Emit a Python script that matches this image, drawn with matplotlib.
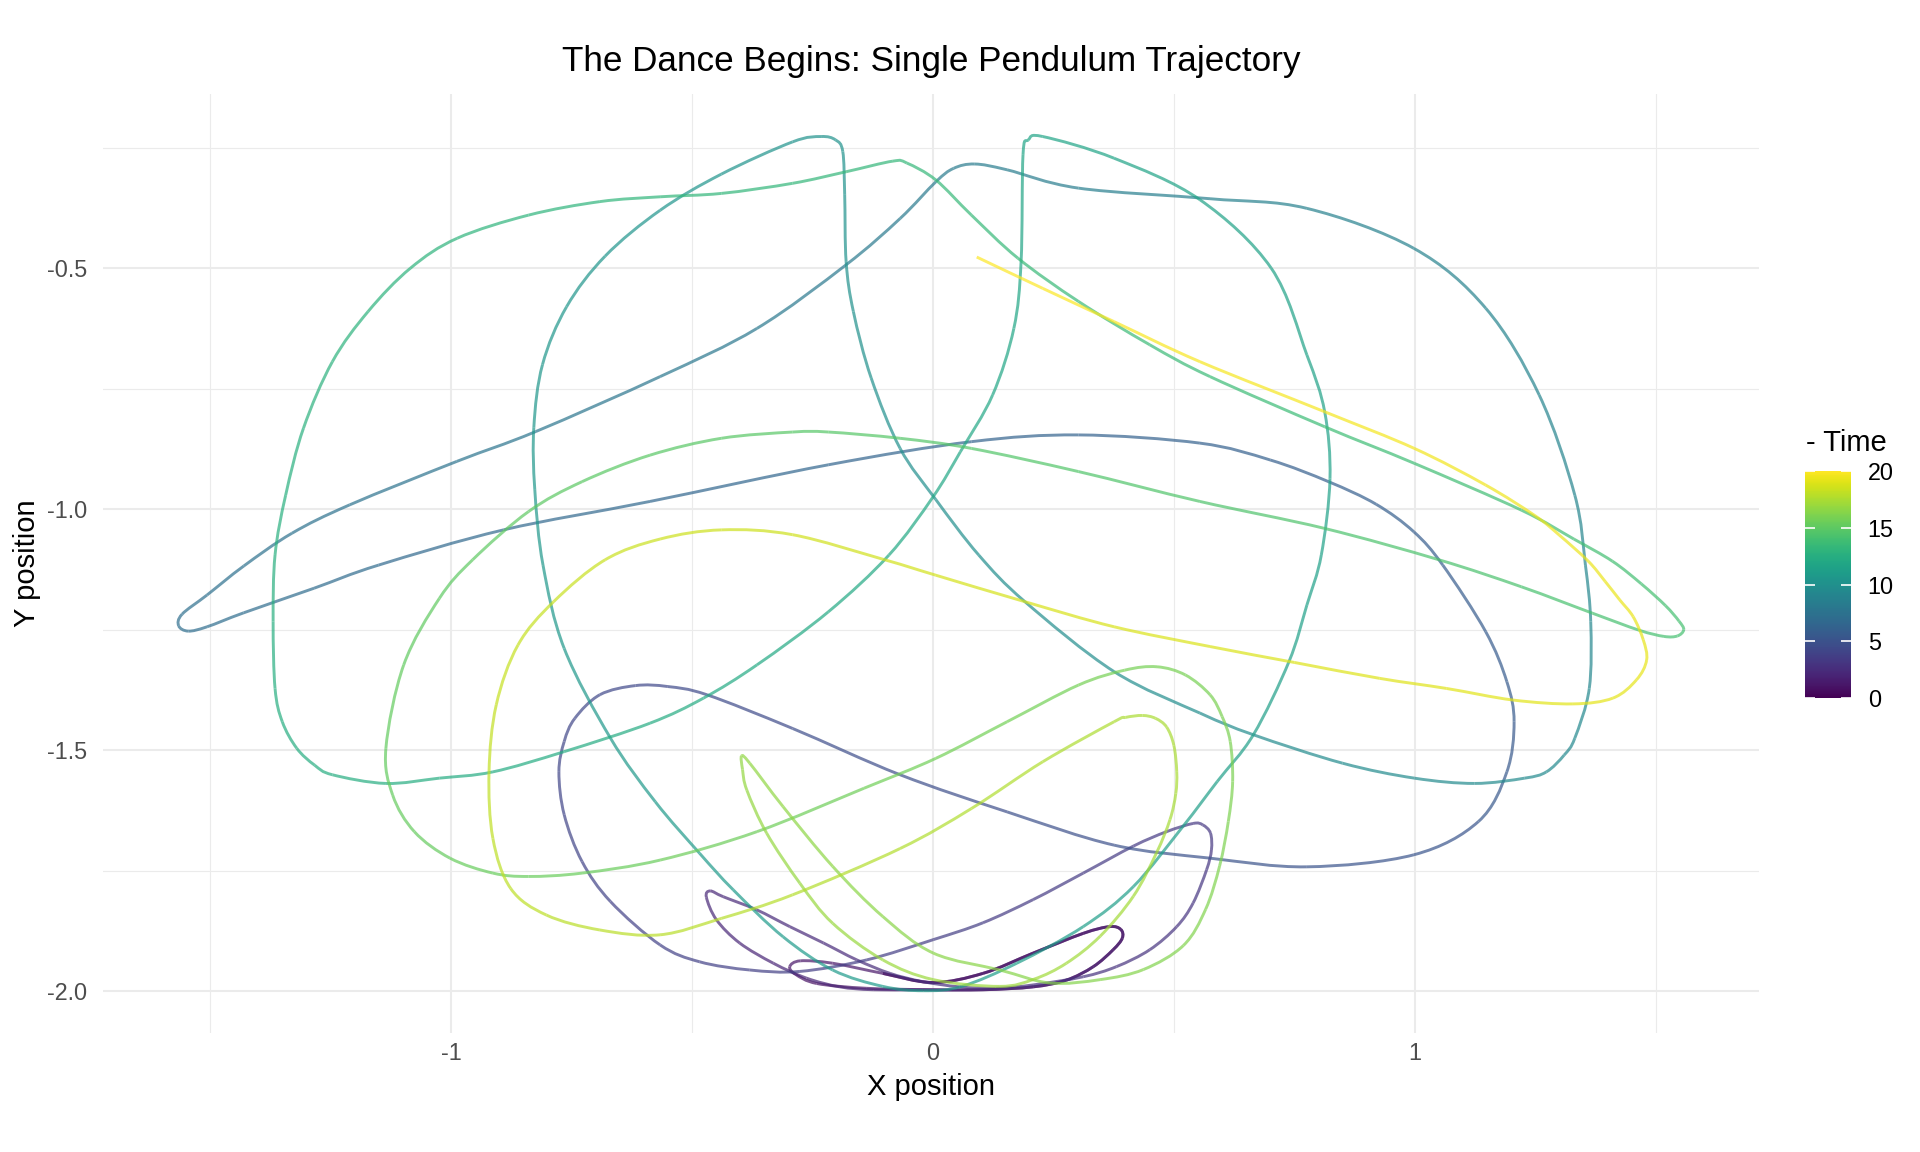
import numpy as np
import matplotlib
matplotlib.use("Agg")
import matplotlib.pyplot as plt
from matplotlib.collections import PathCollection
from matplotlib.path import Path
from matplotlib.cm import ScalarMappable
from matplotlib.colors import Normalize

plt.rcParams['font.family'] = ['Liberation Sans', 'DejaVu Sans']
plt.rcParams['axes.unicode_minus'] = False

# traced position of the bob, in time order
# purple part: small loops near the bottom (t = 0 .. 4.3)
x_purple = [-0.104, 0.000, 0.104, 0.208, 0.312, 0.367, 0.390, 0.393, 0.374, 0.333,
            0.277, 0.208, 0.104, 0.000, -0.137, -0.241, -0.285, -0.297, -0.275, -0.208,
            -0.104, 0.000, 0.104, 0.208, 0.312, 0.367, 0.390, 0.393, 0.374, 0.333,
            0.277, 0.208, 0.104, -0.022, -0.124, -0.193, -0.262, -0.331, -0.401, -0.449,
            -0.470, -0.462, -0.435, -0.366, -0.297, -0.227, -0.158, -0.089, -0.022, 0.055,
            0.130, 0.208, 0.312, 0.381, 0.450, 0.506, 0.540, 0.568, 0.578, 0.576,
            0.560, 0.540, 0.485, 0.416, 0.312, 0.208, 0.104, 0.001, -0.137, -0.276,
            -0.380, -0.484, -0.566, -0.669, -0.728, -0.765, -0.776, -0.765, -0.743, -0.691,
            -0.617]
y_purple = [-1.963, -1.982, -1.963, -1.921, -1.880, -1.866, -1.872, -1.890, -1.914, -1.949,
            -1.977, -1.991, -1.997, -1.997, -1.994, -1.984, -1.965, -1.949, -1.937, -1.942,
            -1.963, -1.982, -1.963, -1.921, -1.880, -1.866, -1.872, -1.890, -1.914, -1.949,
            -1.977, -1.991, -1.997, -1.997, -1.997, -1.991, -1.973, -1.942, -1.900, -1.852,
            -1.805, -1.792, -1.804, -1.831, -1.866, -1.900, -1.935, -1.963, -1.980, -1.991,
            -1.994, -1.987, -1.970, -1.949, -1.914, -1.866, -1.817, -1.748, -1.707, -1.672,
            -1.655, -1.652, -1.669, -1.699, -1.755, -1.810, -1.858, -1.893, -1.935, -1.959,
            -1.956, -1.939, -1.904, -1.814, -1.731, -1.634, -1.545, -1.482, -1.434, -1.385,
            -1.366]
t_purple = [0.00, 0.06, 0.12, 0.19, 0.26, 0.31, 0.35, 0.39, 0.44, 0.50,
            0.56, 0.62, 0.69, 0.76, 0.84, 0.91, 0.96, 1.00, 1.04, 1.10,
            1.16, 1.22, 1.28, 1.34, 1.40, 1.45, 1.49, 1.53, 1.57, 1.62,
            1.67, 1.72, 1.78, 1.84, 1.89, 1.93, 1.97, 2.01, 2.05, 2.09,
            2.13, 2.16, 2.19, 2.25, 2.31, 2.37, 2.43, 2.49, 2.55, 2.61,
            2.67, 2.73, 2.80, 2.86, 2.92, 2.98, 3.03, 3.08, 3.12, 3.16,
            3.20, 3.23, 3.28, 3.33, 3.39, 3.45, 3.51, 3.57, 3.63, 3.69,
            3.75, 3.81, 3.87, 3.94, 4.00, 4.06, 4.12, 4.17, 4.22, 4.28,
            4.34]

# blue / teal part: the big swings (t = 4.4 .. 13.3)
x_blue = [-0.550, -0.469, -0.291, -0.068, 0.154, 0.376, 0.575, 0.776, 0.998, 1.132,
          1.191, 1.206, 1.191, 1.147, 1.058, 0.998, 0.920, 0.821, 0.700, 0.554,
          0.302, 0.080, -0.217, -0.587, -0.891, -1.150, -1.284, -1.430, -1.506, -1.545,
          -1.565, -1.558, -1.506, -1.430, -1.330, -1.210, -0.988, -0.824, -0.566, -0.365,
          -0.180, -0.068, 0.006, 0.043, 0.087, 0.154, 0.302, 0.575, 0.776, 0.998,
          1.147, 1.258, 1.332, 1.354, 1.365, 1.362, 1.332, 1.310, 1.273, 1.228,
          1.124, 0.999, 0.850, 0.665, 0.554, 0.376, 0.191, 0.095, 0.006, -0.068,
          -0.128, -0.165, -0.180, -0.183, -0.187, -0.202, -0.232, -0.291, -0.439, -0.566,
          -0.680, -0.760, -0.810, -0.828, -0.826, -0.809, -0.765, -0.669, -0.576, -0.484,
          -0.414, -0.311, -0.208, -0.104, -0.020, 0.060, 0.174, 0.312, 0.416, 0.519,
          0.590, 0.665, 0.739, 0.776, 0.806, 0.824, 0.813, 0.776, 0.702, 0.554,
          0.376, 0.228, 0.198, 0.187, 0.183, 0.168, 0.124, 0.057, 0.000, -0.091,
          -0.217, -0.365, -0.476, -0.587, -0.765, -0.913, -1.024, -1.135, -1.246, -1.283,
          -1.320, -1.350, -1.365, -1.369, -1.365, -1.343, -1.306, -1.246, -1.172, -1.084,
          -0.987, -0.839, -0.691, -0.566, -0.439, -0.291, -0.180, -0.083, -0.054]
y_blue = [-1.368, -1.385, -1.455, -1.551, -1.628, -1.697, -1.724, -1.742, -1.717, -1.648,
          -1.545, -1.441, -1.358, -1.254, -1.116, -1.047, -0.990, -0.943, -0.898, -0.863,
          -0.846, -0.860, -0.908, -0.984, -1.043, -1.116, -1.164, -1.215, -1.244, -1.253,
          -1.242, -1.218, -1.178, -1.118, -1.050, -0.991, -0.901, -0.839, -0.725, -0.625,
          -0.493, -0.397, -0.321, -0.293, -0.284, -0.296, -0.334, -0.356, -0.376, -0.459,
          -0.583, -0.763, -0.971, -1.116, -1.233, -1.372, -1.475, -1.510, -1.545, -1.558,
          -1.569, -1.558, -1.527, -1.468, -1.423, -1.337, -1.192, -1.095, -0.980, -0.874,
          -0.728, -0.590, -0.487, -0.348, -0.258, -0.234, -0.227, -0.238, -0.305, -0.380,
          -0.475, -0.580, -0.700, -0.830, -0.960, -1.116, -1.289, -1.475, -1.607, -1.714,
          -1.790, -1.887, -1.956, -1.990, -1.999, -1.990, -1.942, -1.866, -1.783, -1.658,
          -1.565, -1.468, -1.316, -1.199, -1.095, -0.936, -0.798, -0.680, -0.500, -0.358,
          -0.272, -0.227, -0.234, -0.265, -0.487, -0.625, -0.763, -0.881, -0.975, -1.095,
          -1.213, -1.323, -1.392, -1.444, -1.503, -1.545, -1.558, -1.569, -1.551, -1.531,
          -1.496, -1.441, -1.372, -1.233, -1.095, -0.971, -0.832, -0.694, -0.590, -0.500,
          -0.438, -0.390, -0.362, -0.352, -0.345, -0.324, -0.300, -0.278, -0.282]
t_blue = [4.40, 4.46, 4.56, 4.68, 4.80, 4.92, 5.03, 5.14, 5.26, 5.36,
          5.44, 5.52, 5.59, 5.67, 5.77, 5.83, 5.89, 5.95, 6.02, 6.08,
          6.19, 6.29, 6.42, 6.58, 6.72, 6.85, 6.93, 7.02, 7.08, 7.12,
          7.16, 7.20, 7.26, 7.33, 7.41, 7.49, 7.62, 7.71, 7.85, 7.95,
          8.06, 8.14, 8.20, 8.24, 8.28, 8.33, 8.42, 8.56, 8.66, 8.78,
          8.88, 8.98, 9.08, 9.15, 9.21, 9.28, 9.34, 9.37, 9.41, 9.44,
          9.48, 9.52, 9.57, 9.63, 9.67, 9.73, 9.80, 9.85, 9.90, 9.94,
          9.99, 10.04, 10.08, 10.13, 10.17, 10.19, 10.21, 10.24, 10.30, 10.35,
          10.40, 10.45, 10.50, 10.55, 10.59, 10.63, 10.67, 10.72, 10.77, 10.80,
          10.84, 10.88, 10.92, 10.95, 10.98, 11.01, 11.05, 11.09, 11.13, 11.17,
          11.20, 11.23, 11.26, 11.29, 11.32, 11.37, 11.41, 11.45, 11.51, 11.57,
          11.63, 11.68, 11.70, 11.72, 11.79, 11.83, 11.88, 11.92, 11.96, 12.01,
          12.07, 12.13, 12.17, 12.21, 12.27, 12.32, 12.36, 12.40, 12.44, 12.46,
          12.48, 12.51, 12.54, 12.59, 12.64, 12.69, 12.74, 12.80, 12.85, 12.90,
          12.95, 13.01, 13.06, 13.11, 13.16, 13.21, 13.25, 13.29, 13.31]

# green part (t = 13.3 .. 17.1)
x_green = [0.006, 0.080, 0.176, 0.302, 0.450, 0.575, 0.813, 0.999, 1.221, 1.330,
           1.410, 1.470, 1.520, 1.548, 1.558, 1.545, 1.517, 1.465, 1.369, 1.221,
           1.050, 0.813, 0.554, 0.302, 0.080, -0.068, -0.217, -0.291, -0.439, -0.587,
           -0.728, -0.839, -0.955, -1.024, -1.098, -1.135, -1.121, -1.076, -1.002, -0.913,
           -0.839, -0.728, -0.566, -0.365, -0.143, 0.006, 0.154, 0.302, 0.398, 0.465,
           0.524, 0.575, 0.600, 0.617, 0.622, 0.613, 0.595, 0.566, 0.520, 0.437,
           0.347, 0.243, 0.139, 0.001, -0.104, -0.208, -0.311, -0.380, -0.397, -0.395,
           -0.386, -0.345, -0.276, -0.208, -0.104, 0.001, 0.139]
y_green = [-0.317, -0.390, -0.479, -0.569, -0.659, -0.725, -0.829, -0.905, -1.002, -1.062,
           -1.108, -1.155, -1.200, -1.232, -1.250, -1.263, -1.264, -1.251, -1.216, -1.161,
           -1.105, -1.040, -0.984, -0.922, -0.874, -0.853, -0.840, -0.840, -0.853, -0.888,
           -0.943, -1.005, -1.105, -1.185, -1.323, -1.496, -1.593, -1.669, -1.724, -1.755,
           -1.762, -1.755, -1.728, -1.669, -1.579, -1.517, -1.441, -1.365, -1.334, -1.327,
           -1.344, -1.385, -1.430, -1.482, -1.565, -1.648, -1.740, -1.830, -1.905, -1.955,
           -1.976, -1.983, -1.956, -1.921, -1.845, -1.741, -1.617, -1.527, -1.512, -1.540,
           -1.583, -1.672, -1.776, -1.859, -1.935, -1.976, -1.990]
t_green = [13.34, 13.38, 13.43, 13.49, 13.55, 13.60, 13.69, 13.76, 13.85, 13.90,
           13.94, 13.97, 14.00, 14.02, 14.03, 14.04, 14.06, 14.09, 14.13, 14.19,
           14.26, 14.35, 14.45, 14.54, 14.62, 14.68, 14.73, 14.76, 14.81, 14.87,
           14.92, 14.97, 15.03, 15.07, 15.13, 15.19, 15.23, 15.27, 15.31, 15.35,
           15.38, 15.42, 15.48, 15.55, 15.63, 15.68, 15.74, 15.80, 15.84, 15.87,
           15.90, 15.93, 15.96, 15.99, 16.03, 16.07, 16.11, 16.16, 16.21, 16.25,
           16.29, 16.33, 16.38, 16.44, 16.50, 16.56, 16.63, 16.68, 16.70, 16.72,
           16.75, 16.80, 16.86, 16.91, 16.97, 17.02, 17.08]

# yellow part: last loops (t = 17.1 .. 20)
x_yellow = [0.210, 0.277, 0.347, 0.416, 0.464, 0.492, 0.504, 0.506, 0.500, 0.485,
            0.462, 0.435, 0.400, 0.376, 0.228, 0.080, -0.068, -0.291, -0.439, -0.566,
            -0.691, -0.802, -0.876, -0.913, -0.921, -0.906, -0.861, -0.787, -0.680, -0.566,
            -0.439, -0.291, -0.100, 0.006, 0.191, 0.376, 0.575, 0.750, 0.927, 1.066,
            1.204, 1.328, 1.411, 1.460, 1.481, 1.474, 1.453, 1.425, 1.395, 1.360,
            1.300, 1.250, 1.147, 0.999, 0.813, 0.554, 0.376, 0.228, 0.091]
y_yellow = [-1.975, -1.942, -1.886, -1.803, -1.713, -1.644, -1.590, -1.545, -1.490, -1.452,
            -1.434, -1.428, -1.432, -1.441, -1.524, -1.621, -1.704, -1.800, -1.849, -1.883,
            -1.873, -1.842, -1.787, -1.683, -1.545, -1.406, -1.282, -1.192, -1.105, -1.062,
            -1.043, -1.053, -1.105, -1.137, -1.192, -1.244, -1.285, -1.318, -1.351, -1.372,
            -1.396, -1.404, -1.392, -1.354, -1.313, -1.271, -1.223, -1.188, -1.150, -1.108,
            -1.054, -1.014, -0.950, -0.874, -0.798, -0.694, -0.611, -0.542, -0.477]
t_yellow = [17.11, 17.14, 17.18, 17.23, 17.28, 17.32, 17.35, 17.37, 17.39, 17.41,
            17.43, 17.46, 17.48, 17.49, 17.55, 17.62, 17.68, 17.77, 17.83, 17.88,
            17.93, 17.98, 18.02, 18.07, 18.13, 18.19, 18.25, 18.30, 18.36, 18.42,
            18.48, 18.54, 18.62, 18.66, 18.73, 18.80, 18.87, 18.94, 19.00, 19.05,
            19.10, 19.15, 19.19, 19.22, 19.25, 19.28, 19.31, 19.34, 19.37, 19.40,
            19.44, 19.47, 19.52, 19.60, 19.68, 19.79, 19.87, 19.94, 20.00]

x = np.array(x_purple + x_blue + x_green + x_yellow)
y = np.array(y_purple + y_blue + y_green + y_yellow)
t = np.array(t_purple + t_blue + t_green + t_yellow)

fig = plt.figure(figsize=(19.2, 11.52), dpi=100)
ax = fig.add_axes([0.0539, 0.1036, 0.8622, 0.8147])

# path coloured by time: each step between traced points is drawn as a
# smooth cubic piece (Catmull-Rom style handles) so the curve has no corners
pts = np.column_stack([x, y])
n = len(pts)
paths = []
for i in range(n - 1):
    p0 = pts[i]
    p3 = pts[i + 1]
    prev_p = pts[i - 1] if i > 0 else pts[i]
    next_p = pts[i + 2] if i + 2 < n else pts[i + 1]
    c1 = p0 + (p3 - prev_p) / 6
    c2 = p3 - (next_p - p0) / 6
    paths.append(Path([p0, c1, c2, p3],
                      [Path.MOVETO, Path.CURVE4, Path.CURVE4, Path.CURVE4]))

norm = Normalize(0, 20)
cmap = plt.get_cmap('viridis')
seg_colors = cmap(norm((t[:-1] + t[1:]) / 2))
pc = PathCollection(paths, facecolors='none', edgecolors=seg_colors,
                    linewidths=2.1, alpha=0.7, transform=ax.transData)
pc.set_capstyle('butt')
ax.add_collection(pc)

ax.set_xlim(-1.721, 1.714)
ax.set_ylim(-2.086, -0.139)

# theme_minimal look
ax.set_xticks([-1, 0, 1])
ax.set_xticklabels(['-1', '0', '1'])
ax.set_xticks([-1.5, -0.5, 0.5, 1.5], minor=True)
ax.set_yticks([-2.0, -1.5, -1.0, -0.5])
ax.set_yticklabels(['-2.0', '-1.5', '-1.0', '-0.5'])
ax.set_yticks([-1.75, -1.25, -0.75, -0.25], minor=True)
ax.grid(True, which='major', color='#EBEBEB', lw=1.5)
ax.grid(True, which='minor', color='#EBEBEB', lw=0.8)
ax.set_axisbelow(True)
for s in ax.spines.values():
    s.set_visible(False)
ax.tick_params(which='both', length=0)
ax.tick_params(axis='x', labelsize=16.8, labelcolor='#4D4D4D', pad=7)
ax.tick_params(axis='y', labelsize=16.8, labelcolor='#4D4D4D', pad=12)

fig.text(931 / 1920, 1 - 61 / 1152, 'The Dance Begins: Single Pendulum Trajectory',
         ha='center', va='center', fontsize=25.3)
fig.text(931 / 1920, 1 - 1087 / 1152, 'X position', ha='center', va='center', fontsize=21)
fig.text(27 / 1920, 1 - 563 / 1152, 'Y position', ha='center', va='center',
         fontsize=21, rotation=90)

# colour bar legend
cax = fig.add_axes([1805 / 1920, 1 - 698 / 1152, 46 / 1920, 227 / 1152])
sm = ScalarMappable(norm=norm, cmap='viridis')
cb = fig.colorbar(sm, cax=cax, ticks=[0, 5, 10, 15, 20])
cb.outline.set_visible(False)
cax.tick_params(axis='y', direction='in', length=7, width=1.2, color='white',
                left=True, right=True, labelleft=False, labelright=True,
                labelsize=16.8, pad=12)
fig.text(1806 / 1920, 1 - 443 / 1152, '- Time', ha='left', va='center', fontsize=21)

fig.savefig('out.png', dpi=100)
